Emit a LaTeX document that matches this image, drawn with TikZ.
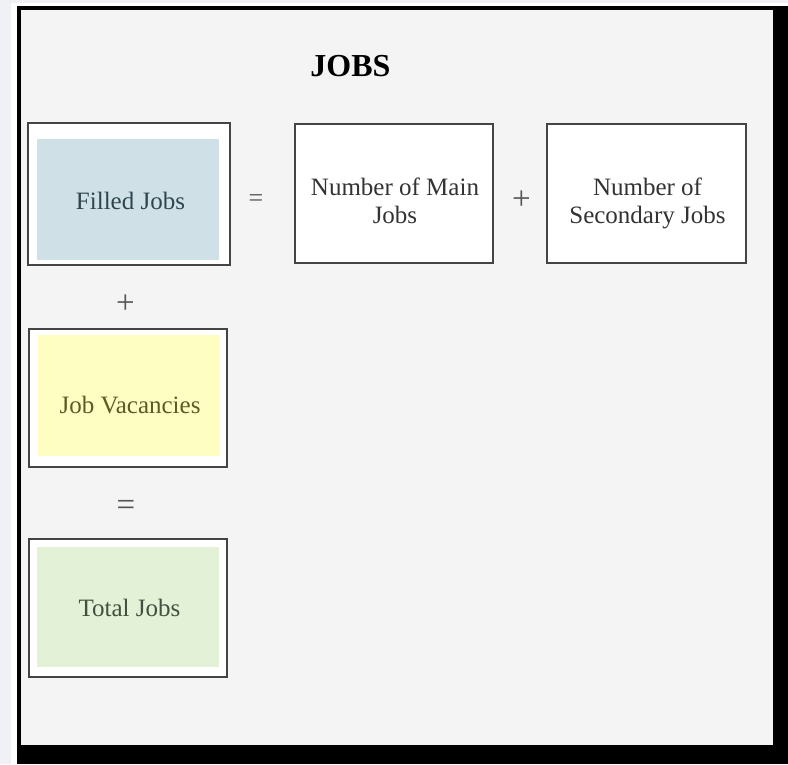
\documentclass[tikz,border=0pt]{standalone}
\usepackage{fontspec}
\setmainfont{Liberation Serif}
\definecolor{pagebg}{HTML}{EFF1F5}
\definecolor{panelbg}{HTML}{F4F4F4}
\definecolor{boxline}{HTML}{444444}
\definecolor{fillblue}{HTML}{CFE1E7}
\definecolor{fillyellow}{HTML}{FEFEC2}
\definecolor{fillgreen}{HTML}{E3F1D6}
\definecolor{txtblue}{HTML}{2E4550}
\definecolor{txtyellow}{HTML}{5B5B25}
\definecolor{txtgreen}{HTML}{415040}
\definecolor{txtgray}{HTML}{333333}
\definecolor{opgray}{HTML}{555555}
\tikzset{
  outerbox/.style={draw=boxline, line width=1.6pt, fill=white, rectangle, inner sep=0pt},
  innerfill/.style={rectangle, inner sep=0pt, draw=none},
  lbl/.style={inner sep=0pt, align=center, font=\fontsize{25}{28}\selectfont},
  oper/.style={inner sep=0pt, text=opgray, font=\fontsize{33}{36}\selectfont},
}
\begin{document}
\begin{tikzpicture}[x=1pt,y=-1pt]
\useasboundingbox (0,0) rectangle (788,764);
% page and frame
\fill[pagebg] (0,0) rectangle (788,764);
\fill[white] (11,3) rectangle (788,764);
\fill[black] (17,6) rectangle (788,764);
\fill[panelbg] (21,10) rectangle (773,745);
% title
\node[inner sep=0pt, font=\fontsize{32}{36}\selectfont\bfseries] (title) at (350.5,66) {JOBS};
% Filled Jobs
\node[outerbox, minimum width=202pt, minimum height=142pt] (filledbox) at (129,194) {};
\node[innerfill, fill=fillblue, minimum width=182pt, minimum height=121pt] (filledfill) at (128,199.5) {};
\node[lbl, text=txtblue] (filled) at (130.5,201) {Filled Jobs};
% Job Vacancies
\node[outerbox, minimum width=198pt, minimum height=138pt] (vacbox) at (128,398) {};
\node[innerfill, fill=fillyellow, minimum width=182pt, minimum height=121pt] (vacfill) at (129,395.5) {};
\node[lbl, text=txtyellow] (vac) at (130,405) {Job Vacancies};
% Total Jobs
\node[outerbox, minimum width=198pt, minimum height=138pt] (totalbox) at (128,608) {};
\node[innerfill, fill=fillgreen, minimum width=182pt, minimum height=120pt] (totalfill) at (128,607) {};
\node[lbl, text=txtgreen] (total) at (129.5,608) {Total Jobs};
% Main jobs
\node[outerbox, line width=1.3pt, minimum width=198pt, minimum height=139pt] (mainbox) at (394,193.5) {};
\node[lbl, text=txtgray] (main) at (395,200.5) {Number of Main\\Jobs};
% Secondary jobs
\node[outerbox, line width=1.3pt, minimum width=199pt, minimum height=139pt] (secbox) at (646.5,193.5) {};
\node[lbl, text=txtgray] (sec) at (647.5,203) {Number of\\Secondary Jobs};
% operators
\node[oper, font=\fontsize{26}{30}\selectfont] (eqA) at (256,201) {=};
\node[oper] (plusA) at (521.5,200.5) {+};
\node[oper] (plusB) at (125.5,304) {+};
\node[oper] (eqB) at (126,507.5) {=};
\end{tikzpicture}
\end{document}
